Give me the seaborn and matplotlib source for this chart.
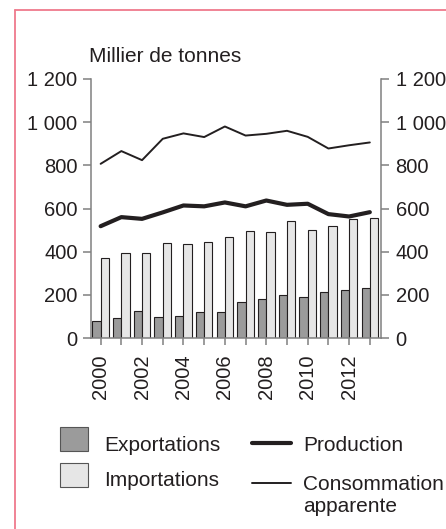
import matplotlib
matplotlib.use("Agg")
import matplotlib.pyplot as plt
import seaborn as sns
import pandas as pd
from matplotlib.patches import Rectangle
from matplotlib.lines import Line2D

# ---- data ----
years = list(range(2000, 2014))
exportations = [80, 92, 126, 96, 100, 119, 119, 168, 179, 198, 188, 213, 222, 231]
importations = [370, 395, 395, 440, 435, 443, 470, 494, 489, 542, 501, 520, 551, 557]
production = [518, 560, 552, 582, 614, 610, 628, 610, 637, 617, 622, 574, 563, 583]
consommation = [807, 866, 824, 923, 948, 931, 980, 938, 946, 960, 932, 878, 893, 906]
yticks = [0, 200, 400, 600, 800, 1000, 1200]
ytick_labels = ["0", "200", "400", "600", "800", "1 000", "1 200"]
xtick_labels = [str(y) if y % 2 == 0 else "" for y in years]
unit_label = "Millier de tonnes"
bar_series = ["Exportations", "Importations"]
line_series = ["Production", "Consommation\napparente"]

# ---- style ----
sns.set_theme(style="white")
plt.rcParams['font.family'] = ['Liberation Sans', 'DejaVu Sans']
TXT = "#231f20"
GRAY = "#808080"
C_EXP = "#9b9b9b"
C_IMP = "#e6e6e6"
FS = 15

W, H = 446, 529
fig = plt.figure(figsize=(W / 100, H / 100), dpi=100)
ax = fig.add_axes([90.7 / W, 1 - 338 / H, (381 - 90.7) / W, (338 - 79) / H])

df_bars = pd.DataFrame({
    "year": years * 2,
    "value": exportations + importations,
    "serie": [bar_series[0]] * len(years) + [bar_series[1]] * len(years),
})
sns.barplot(data=df_bars, x="year", y="value", hue="serie",
            palette={bar_series[0]: C_EXP, bar_series[1]: C_IMP},
            native_scale=True, width=0.8, errorbar=None, saturation=1,
            edgecolor=TXT, linewidth=0.8, ax=ax, legend=False)
sns.lineplot(x=years, y=consommation, color=TXT, lw=1.4, ax=ax)
sns.lineplot(x=years, y=production, color=TXT, lw=3.0, ax=ax)

ax.set_xlim(1999.52, 2013.54)
ax.set_ylim(0, 1200)
ax.set_xlabel("")
ax.set_ylabel("")
ax.set_yticks(yticks)
ax.set_yticklabels(ytick_labels)
ax.set_xticks(years)
ax.set_xticklabels(xtick_labels, rotation=90)
for s in ["top", "right"]:
    ax.spines[s].set_visible(False)
for s in ["left", "bottom"]:
    ax.spines[s].set_color(GRAY)
    ax.spines[s].set_linewidth(1.1)
ax.tick_params(axis="y", left=True, length=6, width=1.1, color=GRAY,
               pad=3.5, labelsize=14.5, labelcolor=TXT)
ax.tick_params(axis="x", bottom=True, length=5, width=1.1, color=GRAY,
               pad=7, labelsize=14.5, labelcolor=TXT)

ax2 = ax.twinx()
ax2.set_ylim(0, 1200)
ax2.set_yticks(yticks)
ax2.set_yticklabels(ytick_labels)
for s in ["top", "left", "bottom"]:
    ax2.spines[s].set_visible(False)
ax2.spines["right"].set_color(GRAY)
ax2.spines["right"].set_linewidth(1.1)
ax2.tick_params(axis="y", right=True, length=6, width=1.1, color=GRAY,
                pad=4.5, labelsize=14.5, labelcolor=TXT)
ax2.grid(False)
ax.grid(False)

fig.text(89 / W, 1 - 61.7 / H, unit_label, fontsize=FS, color=TXT, va="baseline")

# ---- legend (drawn manually) ----
fig.add_artist(Rectangle((60 / W, 1 - 450.7 / H), 28 / W, 24 / H, transform=fig.transFigure,
                         facecolor=C_EXP, edgecolor="#555555", lw=0.8))
fig.add_artist(Rectangle((60 / W, 1 - 487 / H), 28 / W, 24 / H, transform=fig.transFigure,
                         facecolor=C_IMP, edgecolor="#555555", lw=0.8))
fig.text(104 / W, 1 - 451 / H, bar_series[0], fontsize=FS, color=TXT, va="baseline")
fig.text(104 / W, 1 - 485.7 / H, bar_series[1], fontsize=FS, color=TXT, va="baseline")
fig.add_artist(Line2D([252 / W, 291 / W], [1 - 443 / H] * 2, transform=fig.transFigure,
                      color=TXT, lw=3.0))
fig.add_artist(Line2D([252 / W, 291 / W], [1 - 482.7 / H] * 2, transform=fig.transFigure,
                      color=TXT, lw=1.4))
fig.text(303 / W, 1 - 451 / H, line_series[0], fontsize=FS, color=TXT, va="baseline")
fig.text(303 / W, 1 - 511.7 / H, line_series[1], fontsize=FS, color=TXT, va="baseline",
         linespacing=1.2)

# ---- pink frame ----
PINK = "#ef7a8c"
fig.add_artist(Line2D([14.7 / W, 14.7 / W], [0, 1 - 10.3 / H], transform=fig.transFigure,
                      color=PINK, lw=1.3))
fig.add_artist(Line2D([14.7 / W, 1], [1 - 10.3 / H] * 2, transform=fig.transFigure,
                      color=PINK, lw=1.3))

fig.savefig("out.png", dpi=100)
